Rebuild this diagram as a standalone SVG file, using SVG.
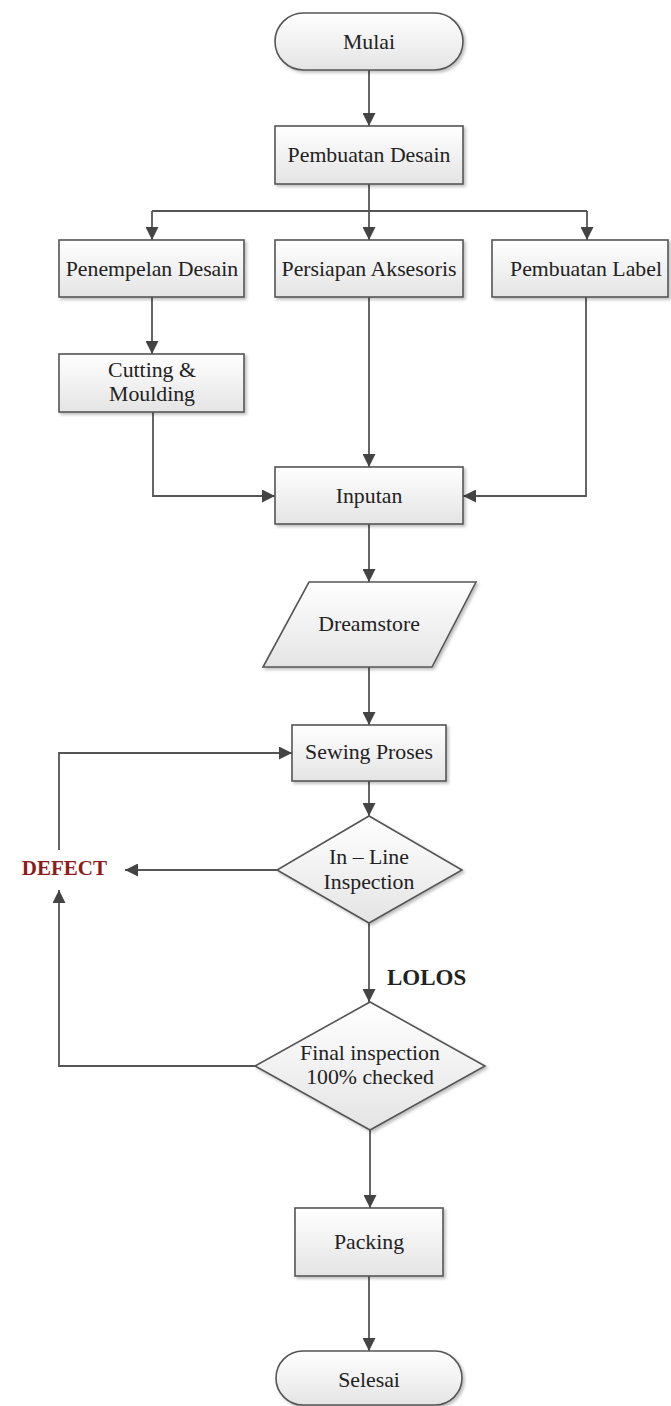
<svg xmlns="http://www.w3.org/2000/svg" width="671" height="1406" viewBox="0 0 671 1406">
<defs>
<linearGradient id="g" x1="0" y1="0" x2="0" y2="1"><stop offset="0" stop-color="#ffffff"/><stop offset="1" stop-color="#e4e4e4"/></linearGradient>
<filter id="sh" x="-10%" y="-10%" width="125%" height="130%"><feDropShadow dx="2" dy="2" stdDeviation="1.5" flood-color="#000" flood-opacity="0.25"/></filter>
<marker id="ar" viewBox="0 0 10 10" refX="10" refY="5" markerWidth="13" markerHeight="13" markerUnits="userSpaceOnUse" orient="auto"><path d="M0,0 L10,5 L0,10 Z" fill="#444"/></marker>
</defs>
<style>
.n{fill:url(#g);stroke:#555;stroke-width:1.6;filter:url(#sh)}
.t{font-family:"Liberation Serif",serif;font-size:21.8px;fill:#222;text-anchor:middle;dominant-baseline:central}
.c{fill:none;stroke:#555;stroke-width:1.8;marker-end:url(#ar)}
.p{fill:none;stroke:#555;stroke-width:1.8}
.b{font-family:"Liberation Serif",serif;font-weight:bold;dominant-baseline:central}
</style>
<rect width="671" height="1406" fill="#fff"/>
<g id="connectors">
<path class="c" d="M369,70 V126"/>
<path class="p" d="M369,184 V211"/>
<path class="p" d="M152,211 H587"/>
<path class="c" d="M152,211 V240"/>
<path class="c" d="M369,211 V240"/>
<path class="c" d="M587,211 V240"/>
<path class="c" d="M152,297 V354"/>
<path class="c" d="M369,297 V467"/>
<path class="c" d="M153,412 V496 H275"/>
<path class="c" d="M586,297 V496 H463"/>
<path class="c" d="M369,524 V582"/>
<path class="c" d="M369,667 V725"/>
<path class="c" d="M369,781 V816"/>
<path class="c" d="M277,870 H125"/>
<path class="c" d="M59,850 V753 H292"/>
<path class="c" d="M369,923 V1002"/>
<path class="c" d="M255,1066 H59 V890"/>
<path class="c" d="M370,1130 V1208"/>
<path class="c" d="M369,1276 V1351"/>
</g>
<g id="mulai"><rect class="n" x="275" y="13" width="188" height="57" rx="28.5"/><text class="t" x="369" y="42">Mulai</text></g>
<g id="pembuatan-desain"><rect class="n" x="275" y="126" width="188" height="58"/><text class="t" x="369" y="155">Pembuatan Desain</text></g>
<g id="penempelan-desain"><rect class="n" x="59" y="240" width="185" height="57"/><text class="t" x="152" y="269">Penempelan Desain</text></g>
<g id="persiapan-aksesoris"><rect class="n" x="275" y="240" width="188" height="57"/><text class="t" x="369" y="269">Persiapan Aksesoris</text></g>
<g id="pembuatan-label"><rect class="n" x="492" y="240" width="176" height="57"/><text class="t" x="586" y="269">Pembuatan Label</text></g>
<g id="cutting"><rect class="n" x="59" y="354" width="185" height="58"/><text class="t" x="152" y="370">Cutting &amp;</text><text class="t" x="152" y="394">Moulding</text></g>
<g id="inputan"><rect class="n" x="275" y="467" width="188" height="57"/><text class="t" x="369" y="496">Inputan</text></g>
<g id="dreamstore"><polygon class="n" points="309,582 476,582 432,667 263,667"/><text class="t" x="369" y="624">Dreamstore</text></g>
<g id="sewing"><rect class="n" x="292" y="725" width="154" height="56"/><text class="t" x="369" y="752">Sewing Proses</text></g>
<g id="inline"><polygon class="n" points="369,816 462,870 369,923 277,870"/><text class="t" x="369" y="857">In – Line</text><text class="t" x="369" y="882">Inspection</text></g>
<g id="defect"><text class="b" x="107" y="868" font-size="21" text-anchor="end" fill="#8e1b1b">DEFECT</text></g>
<g id="lolos"><text class="b" x="387" y="977" font-size="23" fill="#222">LOLOS</text></g>
<g id="final"><polygon class="n" points="370,1002 485,1066 370,1130 255,1066"/><text class="t" x="370" y="1053">Final inspection</text><text class="t" x="370" y="1077">100% checked</text></g>
<g id="packing"><rect class="n" x="295" y="1208" width="148" height="68"/><text class="t" x="369" y="1242">Packing</text></g>
<g id="selesai"><rect class="n" x="276" y="1351" width="186" height="54" rx="27"/><text class="t" x="369" y="1380">Selesai</text></g>
</svg>
